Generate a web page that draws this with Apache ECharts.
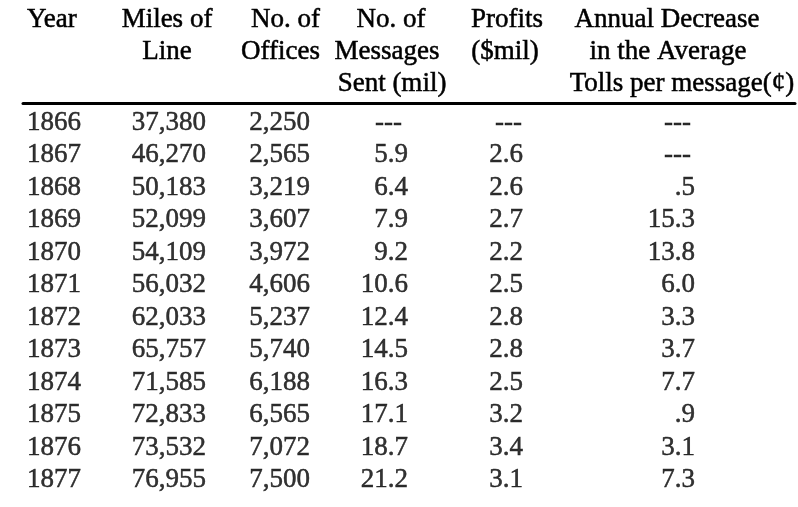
<!DOCTYPE html>
<html>
<head>
<meta charset="utf-8">
<title>Telegraph statistics 1866-1877</title>
<script src="https://cdn.jsdelivr.net/npm/echarts@6/dist/echarts.min.js"></script>
<style>
  html, body { margin: 0; padding: 0; background: #fff; }
  #main { width: 798px; height: 507px; }
</style>
</head>
<body>
<div id="main"></div>
<script>
/*#############  数据  ###############*/
var years = [1866, 1867, 1868, 1869, 1870, 1871, 1872, 1873, 1874, 1875, 1876, 1877];
var miles = [37380, 46270, 50183, 52099, 54109, 56032, 62033, 65757, 71585, 72833, 73532, 76955];
var offices = [2250, 2565, 3219, 3607, 3972, 4606, 5237, 5740, 6188, 6565, 7072, 7500];
var messages = [null, 5.9, 6.4, 7.9, 9.2, 10.6, 12.4, 14.5, 16.3, 17.1, 18.7, 21.2]; // mil
var profits = [null, 2.6, 2.6, 2.7, 2.2, 2.5, 2.8, 2.8, 2.5, 3.2, 3.4, 3.1]; // $mil
var tolls = [null, null, 0.5, 15.3, 13.8, 6.0, 3.3, 3.7, 7.7, 0.9, 3.1, 7.3]; // cents
var headers = [
  ["Year"],
  ["Miles of", "Line"],
  ["No. of", "Offices"],
  ["No. of", "Messages", "Sent (mil)"],
  ["Profits", "($mil)"],
  ["Annual Decrease", "in the Average", "Tolls per message(\u00a2)"]
];

/*#############  版式  ###############*/
var FONT = '"Liberation Serif", "Times New Roman", serif';
var SIZE = 27;
// x axis runs in page pixels, so these are the column anchors
var colX = [27, 206, 310, 408, 523, 695];
var colAlign = ["left", "right", "right", "right", "right", "right"];
var dashShift = [0, 0, 0, -6, -1, -4]; // "---" sits a little left of the numbers
// header lines: anchor x per line, alignment per column
var headX = [[27], [167, 167], [320, 320], [391, 387, 392], [507, 505], [667, 668, 682]];
var headAlign = ["left", "center", "right", "center", "center", "center"];
var headY0 = 20, headStep = 32;

function fmtInt(v) {
  return String(v).replace(/\B(?=(\d{3})+(?!\d))/g, ",");
}
function fmtDec(v) {
  return v.toFixed(1);
}
function fmtToll(v) {
  var s = v.toFixed(1);
  return s.indexOf("0.") === 0 ? s.slice(1) : s;
}
function fmtYear(v) {
  return String(v);
}

function makeSeries(name, values, c, fmt) {
  var data = values.map(function (v, i) {
    var item = { value: [colX[c], i], raw: v };
    if (v === null) item.label = { offset: [dashShift[c], 0] };
    return item;
  });
  return {
    name: name,
    type: "scatter",
    symbolSize: 0,
    silent: true,
    data: data,
    label: {
      show: true,
      position: "inside",
      align: colAlign[c],
      verticalAlign: "middle",
      color: "#000",
      textBorderColor: "#000",
      textBorderWidth: 0.5,
      fontFamily: FONT,
      fontSize: SIZE,
      formatter: function (p) {
        return p.data.raw === null ? "---" : fmt(p.data.raw);
      },
    },
  };
}

// 表头文字
var headGraphic = [];
headers.forEach(function (lines, k) {
  lines.forEach(function (t, j) {
    headGraphic.push({
      type: "text",
      x: headX[k][j],
      y: headY0 + j * headStep,
      silent: true,
      style: {
        text: t,
        fill: "#000",
        stroke: "#000",
        lineWidth: 0.5,
        font: SIZE + "px " + FONT,
        align: headAlign[k],
        verticalAlign: "middle",
      },
    });
  });
});

var dom = document.getElementById("main");
var myChart = echarts.init(dom);

var option = {
  backgroundColor: "#fff",
  animation: false,
  grid: { left: 23, right: 3, top: 106.3, bottom: 10.7 },
  xAxis: {
    type: "value",
    position: "top",
    offset: 3,
    min: 23,
    max: 795,
    axisLine: { show: true, lineStyle: { color: "#000", width: 3 } },
    axisTick: { show: false },
    axisLabel: { show: false },
    splitLine: { show: false },
  },
  yAxis: {
    type: "category",
    inverse: true,
    data: years.map(String),
    show: false,
  },
  graphic: headGraphic,
  series: [
    makeSeries("Year", years, 0, fmtYear),
    makeSeries("Miles of Line", miles, 1, fmtInt),
    makeSeries("No. of Offices", offices, 2, fmtInt),
    makeSeries("No. of Messages Sent (mil)", messages, 3, fmtDec),
    makeSeries("Profits ($mil)", profits, 4, fmtDec),
    makeSeries("Annual Decrease in the Average Tolls per message", tolls, 5, fmtToll),
  ],
};
if (option && typeof option === "object") {
  myChart.setOption(option, true);
}
</script>
</body>
</html>
